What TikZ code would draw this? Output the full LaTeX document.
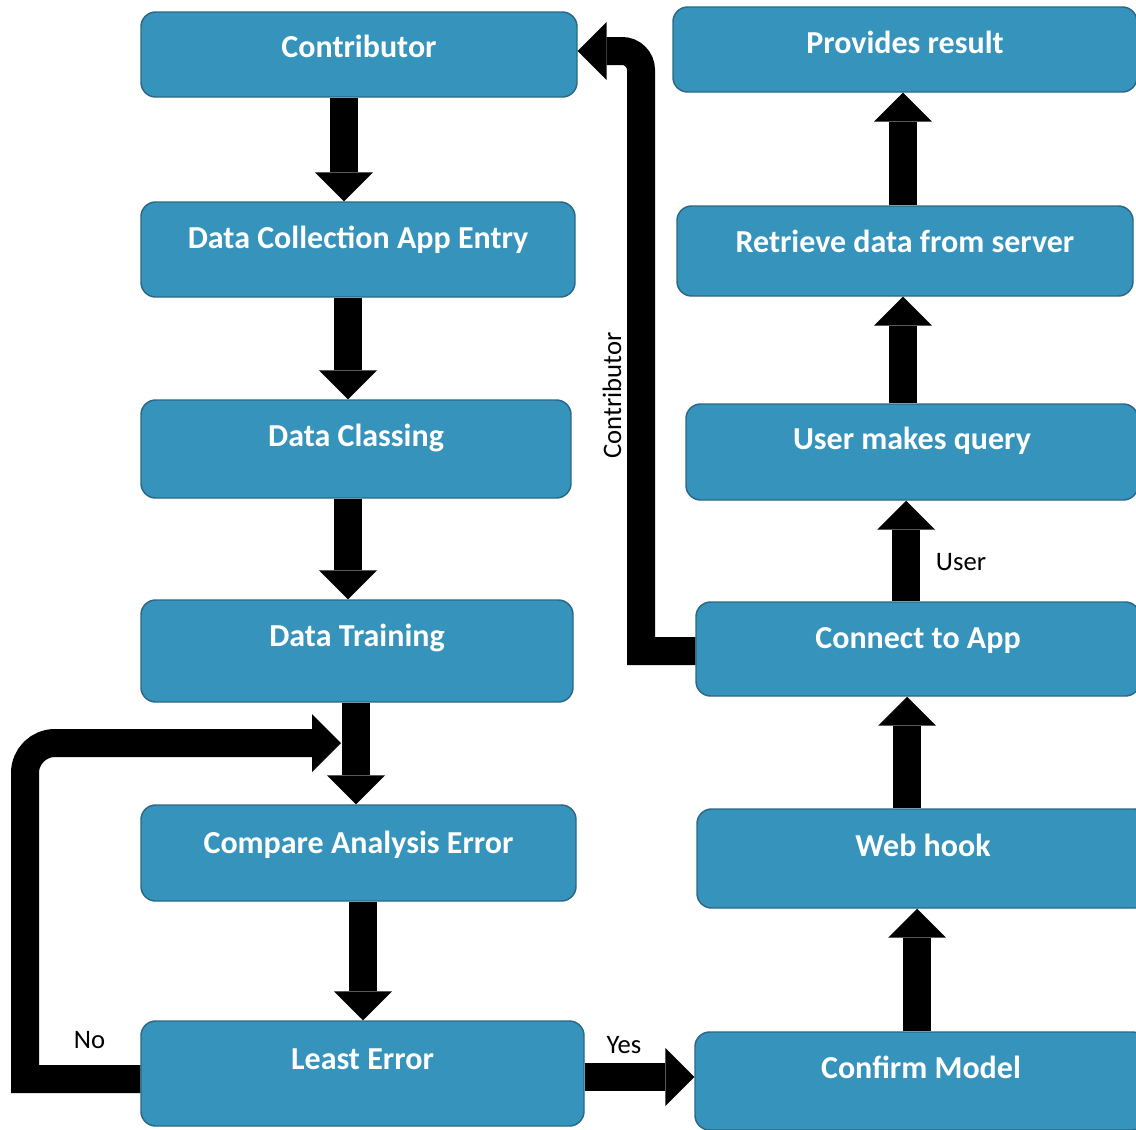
\documentclass[tikz,border=0pt]{standalone}
\usepackage{fontspec}
\setmainfont{Carlito}
\usetikzlibrary{arrows.meta}
\newdimen\pxu \pxu=0.75pt
% text set with its baseline shifted from the box centre (in px)
\newcommand{\bt}[2]{\raisebox{-#1\pxu}[0pt][0pt]{#2}}
\definecolor{boxfill}{RGB}{54,147,187}
\definecolor{boxedge}{RGB}{42,104,134}
\tikzset{
  stepbox/.style={draw=boxedge, line width=1.1pt, fill=boxfill, rounded corners=11pt,
    inner sep=0pt, text=white, font=\bfseries\fontsize{24}{29}\selectfont},
  flow/.style={line width=21pt, line cap=butt, line join=miter, draw=black,
    -{Triangle[length=21.75pt, width=43.5pt, line width=0pt]}},
  lbl/.style={font=\fontsize{20}{24}\selectfont, text=black, inner sep=0pt}
}
\begin{document}
\begin{tikzpicture}[x=0.75pt, y=-0.75pt]
\useasboundingbox (0,0) rectangle (1136,1129);
\clip (0,0) rectangle (1136,1129);

% left column
\node[stepbox, minimum width=436\pxu, minimum height=85\pxu]  (c1) at (359,54.5)   {\bt{2.5}{Contributor}};
\node[stepbox, minimum width=434\pxu, minimum height=95\pxu]  (c2) at (358,249.5)  {\bt{-1.5}{Data Collection App Entry}};
\node[stepbox, minimum width=430\pxu, minimum height=98\pxu]  (c3) at (356,449)    {\bt{-3}{Data Classing}};
\node[stepbox, minimum width=432\pxu, minimum height=102\pxu] (c4) at (357,651)    {\bt{-5}{Data Training}};
\node[stepbox, minimum width=435\pxu, minimum height=96\pxu]  (c5) at (358.5,853)  {\bt{0}{Compare Analysis Error}};
\node[stepbox, minimum width=443\pxu, minimum height=105\pxu] (c6) at (362.5,1073.5) {\bt{-4.5}{Least Error}};

% right column
\node[stepbox, minimum width=464\pxu, minimum height=85\pxu]  (r1) at (905,49.5)   {\bt{3.5}{Provides result}};
\node[stepbox, minimum width=456\pxu, minimum height=90\pxu]  (r2) at (905,251)    {\bt{1}{Retrieve data from server}};
\node[stepbox, minimum width=452\pxu, minimum height=96\pxu]  (r3) at (912,452)    {\bt{-3}{User makes query}};
\node[stepbox, minimum width=444\pxu, minimum height=94\pxu]  (r4) at (918,649)    {\bt{-1}{Connect to App}};
\node[stepbox, minimum width=452\pxu, minimum height=99\pxu]  (r5) at (923,858.5)  {\bt{-2.5}{Web hook}};
\node[stepbox, minimum width=452\pxu, minimum height=98\pxu]  (r6) at (921,1081)   {\bt{-3}{Confirm Model}};

% left column flow
\draw[flow] (c1.south -| 344,0) -- (c2.north -| 344,0);
\draw[flow] (c2.south -| 348,0) -- (c3.north -| 348,0);
\draw[flow] (c3.south -| 348,0) -- (c4.north -| 348,0);
\draw[flow] (c4.south -| 356,0) -- (c5.north -| 356,0);
\draw[flow] (c5.south -| 363,0) -- (c6.north -| 363,0);

% retry loop back into the training output
\coordinate (retry) at (341,743);
\draw[flow] (c6.west |- 0,1079) -- (25,1079) [rounded corners=22.5pt] -- (25,743) -- (retry);
\node[lbl] (no) at (89.5,1040) {No};

% accepted model
\draw[flow] (c6.east |- 0,1077) -- (r6.west |- 0,1077);
\node[lbl] (yes) at (624,1045) {Yes};

% right column flow
\draw[flow] (r6.north -| 917,0) -- (r5.south -| 917,0);
\draw[flow] (r5.north -| 907,0) -- (r4.south -| 907,0);
\draw[flow] (r4.north -| 906,0) -- (r3.south -| 906,0);
\draw[flow] (r3.north -| 903,0) -- (r2.south -| 903,0);
\draw[flow] (r2.north -| 903,0) -- (r1.south -| 903,0);
\node[lbl] (user) at (961,562) {User};

% contributor path back to the top
\draw[flow] (r4.west |- 0,651) -- (641,651) [rounded corners=14.25pt] -- (641,51) -- (c1.east |- 0,51);
\node[lbl, rotate=90] (contrib) at (612,395.5) {Contributor};
\end{tikzpicture}
\end{document}
